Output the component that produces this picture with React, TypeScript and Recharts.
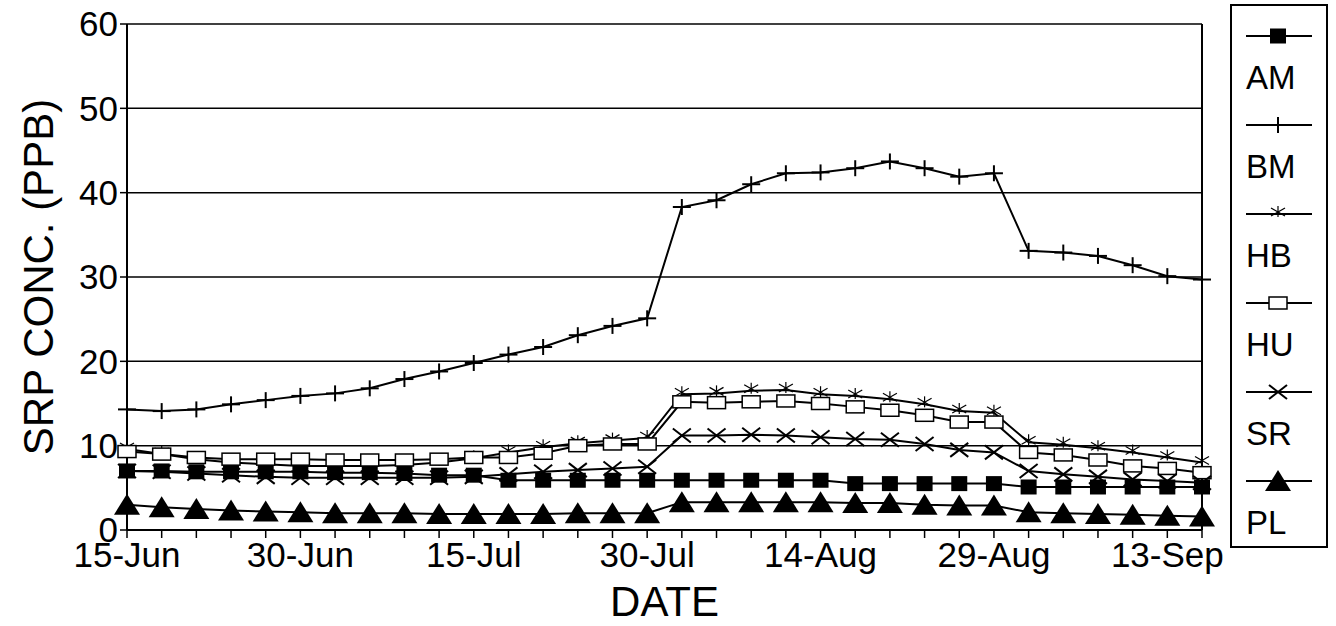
import React from 'react';
import { LineChart, Line, XAxis, YAxis, CartesianGrid, ReferenceLine } from 'recharts';

const DATES = [
  '15-Jun', '18-Jun', '21-Jun', '24-Jun', '27-Jun', '30-Jun', '3-Jul', '6-Jul',
  '9-Jul', '12-Jul', '15-Jul', '18-Jul', '21-Jul', '24-Jul', '27-Jul', '30-Jul',
  '2-Aug', '5-Aug', '8-Aug', '11-Aug', '14-Aug', '17-Aug', '20-Aug', '23-Aug',
  '26-Aug', '29-Aug', '1-Sep', '4-Sep', '7-Sep', '10-Sep', '13-Sep', '16-Sep',
];
const X_LABELS = ['15-Jun', '30-Jun', '15-Jul', '30-Jul', '14-Aug', '29-Aug', '13-Sep'];
const Y_TICKS = [0, 10, 20, 30, 40, 50, 60];

const AM = [7.0, 7.0, 6.9, 6.9, 6.9, 6.9, 6.8, 6.8, 6.7, 6.5, 6.5, 5.9, 5.9, 5.9, 5.9, 5.9,
  5.9, 5.9, 5.9, 5.9, 5.9, 5.5, 5.5, 5.5, 5.5, 5.5, 5.1, 5.1, 5.1, 5.1, 5.1, 5.1];
const BM = [14.3, 14.1, 14.3, 14.9, 15.4, 15.9, 16.2, 16.8, 17.9, 18.8, 19.8, 20.8, 21.7, 23.1, 24.2, 25.1,
  38.3, 39.1, 41.0, 42.3, 42.4, 42.9, 43.7, 42.9, 41.9, 42.3, 33.1, 32.9, 32.5, 31.4, 30.1, 29.7];
const HB = [9.6, 9.0, 8.4, 8.0, 7.8, 7.6, 7.6, 7.6, 7.7, 8.0, 8.5, 9.2, 9.8, 10.3, 10.6, 10.9,
  16.1, 16.2, 16.5, 16.6, 16.1, 15.9, 15.5, 14.9, 14.1, 13.9, 10.4, 10.1, 9.7, 9.2, 8.6, 8.0];
const HU = [9.3, 9.0, 8.6, 8.4, 8.4, 8.4, 8.3, 8.3, 8.3, 8.4, 8.6, 8.6, 9.1, 10.0, 10.2, 10.2,
  15.2, 15.1, 15.2, 15.3, 15.0, 14.6, 14.2, 13.6, 12.8, 12.8, 9.2, 8.9, 8.3, 7.6, 7.3, 6.8];
const SR = [7.0, 6.9, 6.7, 6.5, 6.3, 6.2, 6.2, 6.2, 6.2, 6.2, 6.3, 6.6, 6.9, 7.1, 7.3, 7.5,
  11.2, 11.2, 11.3, 11.2, 11.0, 10.8, 10.7, 10.2, 9.5, 9.2, 7.0, 6.6, 6.3, 6.0, 5.8, 5.6];
const PL = [3.0, 2.7, 2.5, 2.3, 2.2, 2.1, 2.0, 2.0, 2.0, 1.9, 1.9, 1.9, 1.9, 2.0, 2.0, 2.0,
  3.3, 3.3, 3.3, 3.3, 3.3, 3.2, 3.2, 3.0, 2.9, 2.9, 2.1, 2.0, 1.9, 1.8, 1.7, 1.6];

const SERIES = ['AM', 'BM', 'HB', 'HU', 'SR', 'PL'];
const VALUES: Record<string, number[]> = { AM, BM, HB, HU, SR, PL };

const data = DATES.map((d, i) => {
  const row: Record<string, any> = { date: d };
  SERIES.forEach(s => { row[s] = VALUES[s][i]; });
  return row;
});

const FONT = '"Liberation Sans", Arial, sans-serif';

// marker shapes, one per series
const marker = (name: string, cx: number, cy: number, key?: string) => {
  switch (name) {
    case 'AM':
      return <rect key={key} x={cx - 8} y={cy - 7.5} width={16} height={15} fill="#000" />;
    case 'BM':
      return (
        <g key={key} stroke="#000" strokeWidth={2}>
          <line x1={cx - 9} x2={cx + 9} y1={cy} y2={cy} />
          <line x1={cx} x2={cx} y1={cy - 8} y2={cy + 8} />
        </g>
      );
    case 'HB':
      return (
        <g key={key} stroke="#000" strokeWidth={1.2}>
          <line x1={cx} x2={cx} y1={cy - 8} y2={cy + 3} />
          <line x1={cx - 7} x2={cx + 7} y1={cy - 6} y2={cy + 2} />
          <line x1={cx + 7} x2={cx - 7} y1={cy - 6} y2={cy + 2} />
        </g>
      );
    case 'HU':
      return <rect key={key} x={cx - 9} y={cy - 6} width={18} height={12} fill="#fff" stroke="#000" strokeWidth={1.5} />;
    case 'SR':
      return (
        <g key={key} stroke="#000" strokeWidth={2}>
          <line x1={cx - 9} x2={cx + 9} y1={cy - 7} y2={cy + 7} />
          <line x1={cx + 9} x2={cx - 9} y1={cy - 7} y2={cy + 7} />
        </g>
      );
    default:
      return <polygon key={key} points={`${cx},${cy - 11} ${cx + 13},${cy + 10} ${cx - 13},${cy + 10}`} fill="#000" />;
  }
};

const XTick = (props: any) => {
  const { x, y, payload } = props;
  if (!X_LABELS.includes(payload.value)) return <g />;
  return (
    <text x={x} y={y} dy={27} textAnchor="middle" fontSize={35} fontFamily={FONT} fill="#000">
      {payload.value}
    </text>
  );
};

const LegendBox = () => (
  <div style={{ position: 'absolute', left: 1230, top: 4, width: 98, height: 544, border: '2px solid #000', boxSizing: 'border-box' }}>
    <svg width={94} height={540} style={{ position: 'absolute', left: 0, top: 0 }}>
      {SERIES.map((s, i) => {
        const y = 30 + i * 89;
        return (
          <g key={s}>
            <line x1={14} x2={80} y1={y} y2={y} stroke="#000" strokeWidth={2} />
            {marker(s, 46, y)}
            <text x={14} y={y + 53} fontSize={33} fontFamily={FONT} fill="#000">{s}</text>
          </g>
        );
      })}
    </svg>
  </div>
);

export default function App() {
  return (
    <div style={{ position: 'absolute', left: 0, top: 0, width: 1336, height: 626, background: '#fff', fontFamily: FONT }}>
      <LineChart width={1336} height={626} data={data} margin={{ top: 24, right: 134, left: 0, bottom: 0 }}>
        <CartesianGrid vertical={false} stroke="#000" strokeWidth={1.5} />
        <XAxis
          dataKey="date"
          interval={0}
          height={96}
          tickSize={8}
          tickMargin={2}
          tick={<XTick />}
          axisLine={{ stroke: '#000', strokeWidth: 2 }}
          tickLine={{ stroke: '#000', strokeWidth: 1.5 }}
          label={{ value: 'DATE', position: 'insideBottom', offset: 10, style: { fontSize: 42, fill: '#000', fontFamily: FONT } }}
        />
        <YAxis
          domain={[0, 60]}
          ticks={Y_TICKS}
          width={127}
          tickSize={7}
          tickMargin={2}
          tick={{ fontSize: 35, fill: '#000', fontFamily: FONT }}
          axisLine={{ stroke: '#000', strokeWidth: 2 }}
          tickLine={{ stroke: '#000', strokeWidth: 1.5 }}
          label={{ value: 'SRP CONC. (PPB)', angle: -90, position: 'insideLeft', offset: 38, style: { textAnchor: 'middle', fontSize: 42, fill: '#000', fontFamily: FONT } }}
        />
        <ReferenceLine x={DATES[DATES.length - 1]} stroke="#000" strokeWidth={2} />
        {SERIES.map(s => (
          <Line
            key={s}
            type="linear"
            dataKey={s}
            stroke="#000"
            strokeWidth={2}
            isAnimationActive={false}
            dot={(p: any) => marker(s, p.cx, p.cy, `${s}-${p.index}`)}
            activeDot={false}
          />
        ))}
      </LineChart>
      <LegendBox />
    </div>
  );
}
